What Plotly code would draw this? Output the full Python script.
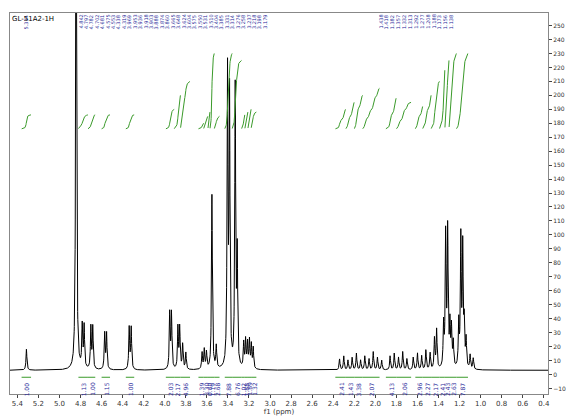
import numpy as np
import plotly.graph_objects as go

# peak list: shift (ppm), height, half-width (ppm)
peak_ppm = [5.314, 4.842, 4.784, 4.766, 4.702, 4.684, 4.571, 4.553, 4.338, 4.319,
            3.953, 3.936, 3.875, 3.858, 3.830, 3.800, 3.646, 3.625, 3.604, 3.552, 3.511,
            3.404, 3.385, 3.331, 3.312, 3.250, 3.232, 3.214, 3.196, 3.178, 3.160,
            2.34, 2.30, 2.26, 2.22, 2.18, 2.14, 2.10, 2.06, 2.02, 1.98, 1.94,
            1.86, 1.82, 1.78, 1.74, 1.70, 1.64, 1.60, 1.56, 1.52, 1.48,
            1.438, 1.418, 1.352, 1.332, 1.313, 1.292, 1.277, 1.260,
            1.208, 1.188, 1.170, 1.156, 1.138, 1.100, 1.070]
peak_h = [15, 400, 30, 30, 30, 30, 26, 26, 30, 30,
          40, 40, 30, 30, 18, 12, 12, 14, 12, 125, 16,
          210, 195, 200, 80, 18, 20, 18, 20, 17, 15,
          8, 10, 7, 9, 12, 7, 10, 8, 13, 9, 7,
          10, 12, 9, 13, 8, 9, 12, 10, 14, 12,
          22, 28, 30, 95, 98, 30, 28, 18,
          32, 92, 85, 30, 20, 10, 8]
peak_w = 0.005

# integral regions: (start ppm, end ppm, value label)
int_from = [5.36, 4.82, 4.73, 4.60, 4.37, 3.99, 3.91, 3.85, 3.68, 3.63, 3.59, 3.57, 3.53,
            3.43, 3.36, 3.27, 3.24, 3.21, 3.18,
            2.38, 2.28, 2.20, 2.12, 1.90, 1.80, 1.62, 1.55, 1.47, 1.39, 1.34, 1.30, 1.23]
int_to = [5.27, 4.73, 4.66, 4.52, 4.29, 3.91, 3.85, 3.76, 3.63, 3.59, 3.57, 3.53, 3.48,
          3.36, 3.27, 3.24, 3.21, 3.18, 3.13,
          2.28, 2.20, 2.12, 1.96, 1.80, 1.66, 1.55, 1.47, 1.39, 1.34, 1.30, 1.23, 1.12]
int_val = ["1.00", "1.13", "1.00", "1.15", "1.00", "2.03", "2.17", "4.96", "1.39", "3.30",
           "0.60", "1.19", "2.68", "7.88", "6.76", "1.02", "1.88", "1.89", "1.32",
           "2.41", "1.43", "3.38", "2.07", "4.13", "2.06", "2.96", "2.27", "2.17",
           "2.41", "2.43", "2.63", "7.87"]
int_top = [186, 186, 186, 186, 186, 190, 200, 210, 180, 185, 188, 230, 185,
           230, 225, 186, 188, 190, 188,
           190, 195, 200, 205, 198, 195, 192, 200, 210, 218, 225, 230, 230]

top_labels = ["5.314", "4.842", "4.797", "4.782", "4.702", "4.681", "4.575", "4.553",
              "4.338", "4.319", "3.969", "3.953", "3.936", "3.918", "3.903", "3.888",
              "3.874", "3.860", "3.665", "3.648", "3.624", "3.604", "3.575", "3.550",
              "3.531", "3.510", "3.404", "3.385", "3.331", "3.314", "3.276", "3.258",
              "3.237", "3.218", "3.198", "3.179",
              "1.438", "1.418", "1.382", "1.357", "1.332", "1.313", "1.292", "1.277",
              "1.208", "1.188", "1.173", "1.156", "1.138"]

x = np.linspace(5.47, 0.36, 4000)
y = np.full_like(x, 3.0)
for p, h in zip(peak_ppm, peak_h):
    y += h / (1 + ((x - p) / peak_w) ** 2)

fig = go.Figure()
fig.add_trace(go.Scatter(x=x, y=y, mode="lines", line=dict(color="black", width=1),
                         hoverinfo="skip"))

for a, b, v, t in zip(int_from, int_to, int_val, int_top):
    m = (x <= a) & (x >= b)
    xs = x[m]
    c = np.cumsum(y[m] - 3)
    c = 176 + (t - 176) * c / c[-1]
    fig.add_trace(go.Scatter(x=xs, y=c, mode="lines", line=dict(color="#3a9a2a", width=1),
                             hoverinfo="skip"))
    fig.add_shape(type="line", x0=a, x1=b, y0=-2, y1=-2, line=dict(color="#3a9a2a", width=1))
    fig.add_annotation(x=(a + b) / 2, y=-4, text=v, textangle=-90, showarrow=False,
                       yanchor="top", font=dict(size=6, color="#2a2a9a"))

n_left = 36
for i, lab in enumerate(top_labels):
    if i < n_left:
        xp = 5.314 if i == 0 else 4.80 - (i - 1) * (4.80 - 3.05) / (n_left - 2)
    else:
        xp = 1.95 - (i - n_left) * (1.95 - 1.28) / (len(top_labels) - n_left - 1)
    fig.add_annotation(x=xp, y=259, text=lab, textangle=-90, showarrow=False,
                       yanchor="top", font=dict(size=5, color="#2a2a9a"))

fig.add_annotation(xref="paper", yref="paper", x=0.0, y=1.0, text="GL-51A2-1H",
                   showarrow=False, xanchor="left", yanchor="top",
                   font=dict(size=7, color="black"))

fig.update_layout(
    width=574, height=416, showlegend=False,
    margin=dict(l=2, r=34, t=5, b=30),
    plot_bgcolor="white", paper_bgcolor="white",
    font=dict(family="DejaVu Sans", size=7, color="#333"),
    xaxis=dict(range=[5.47, 0.36], dtick=0.2, tick0=0, ticks="outside", ticklen=3,
               tickformat=".1f",
               showgrid=False, zeroline=False, showline=True, linecolor="#888",
               mirror=True, title=dict(text="f1 (ppm)", standoff=0, font=dict(size=7))),
    yaxis=dict(range=[-14, 259], dtick=10, side="right", ticks="outside", ticklen=3,
               tickfont=dict(size=6), automargin=False,
               showgrid=False, zeroline=False, showline=True, linecolor="#888", mirror=True),
)

fig.write_html("out.html")
